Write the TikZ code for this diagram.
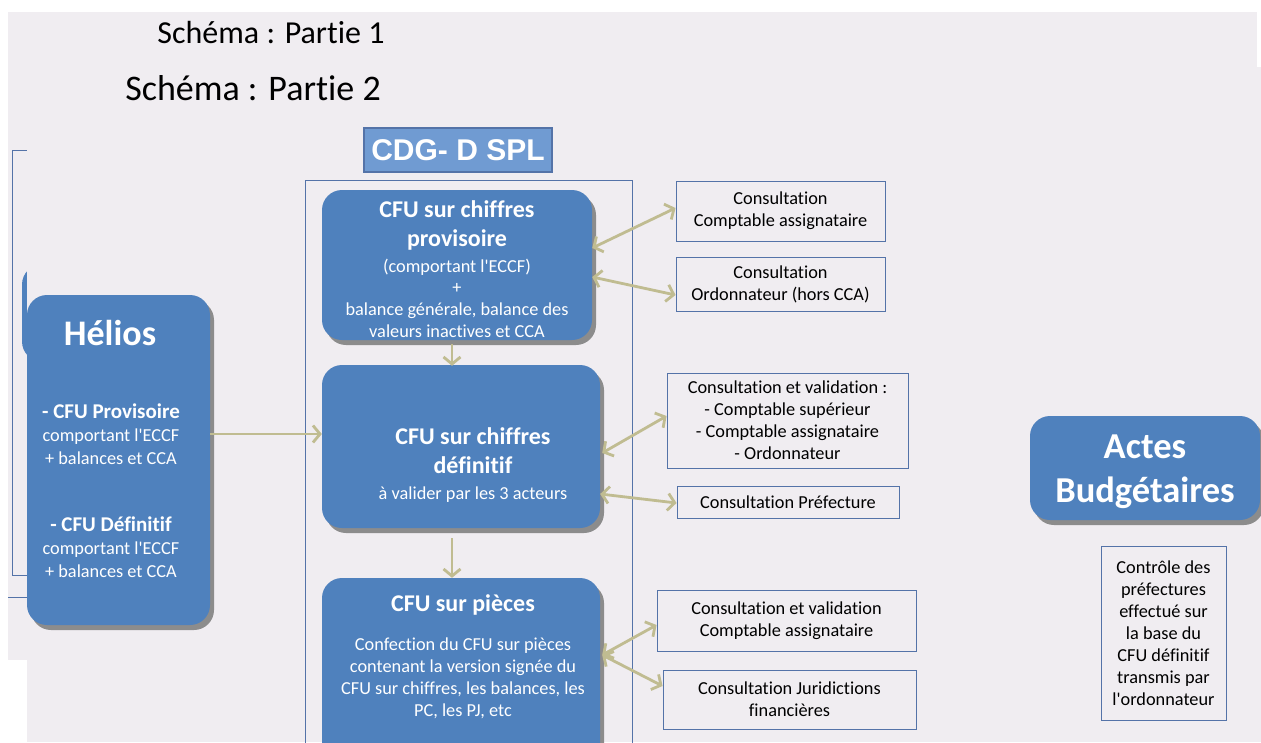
\documentclass[tikz,border=0pt]{standalone}
\usepackage{fontspec}
\setmainfont{Carlito}[Ligatures=NoCommon]
\newfontfamily\arialfont{Liberation Sans}
\usetikzlibrary{arrows.meta,shadows,positioning}

\definecolor{slidebg}{RGB}{240,237,241}
\definecolor{boxblue}{RGB}{79,129,189}
\definecolor{titleblue}{RGB}{112,155,210}
\definecolor{frameblue}{RGB}{84,115,168}
\definecolor{shadowgrey}{RGB}{140,140,140}
\definecolor{arrowtan}{RGB}{192,188,145}

\newcommand{\boxhead}[1]{{\fontsize{24}{22}\selectfont\bfseries #1}}
\newcommand{\subhead}[1]{{\fontsize{21}{22}\selectfont\bfseries #1}}
\newcommand{\q}{\textquotesingle}

\begin{document}
\begin{tikzpicture}[x=1pt,y=-1pt,
    bluebox/.style={fill=boxblue,rounded corners=20pt,text=white,align=center,inner sep=0pt,
      drop shadow={shadow xshift=4pt,shadow yshift=-5pt,fill=shadowgrey,opacity=1}},
    infobox/.style={draw=frameblue,line width=0.9pt,fill=slidebg,align=center,inner sep=0pt,
      font=\fontsize{18.3}{22}\selectfont},
    bodytext/.style={text=white,align=center,font=\fontsize{18.3}{22}\selectfont},
    flow/.style={draw=arrowtan,line width=2.8pt,-{Straight Barb[length=7pt,width=17pt]}},
    flowboth/.style={draw=arrowtan,line width=2.8pt,
      {Straight Barb[length=7pt,width=17pt]}-{Straight Barb[length=7pt,width=17pt]}}
  ]
  \clip (0,0) rectangle (1261,742);
  \fill[white] (0,0) rectangle (1261,742);

  % slide 1, mostly hidden
  \fill[slidebg] (8,12) rectangle (1257,660);
  \node[fill=boxblue,rounded corners=20pt,minimum width=178pt,minimum height=97pt] (oldhelios) at (111,313) {};
  \draw[frameblue,line width=0.9pt] (27,150) -- (12,150) -- (12,575) -- (27,575);
  \draw[frameblue,line width=0.9pt] (8,597) -- (27,597);
  \node[font=\fontsize{32}{34}\selectfont] (title1) at (271,33) {Schéma : Partie 1};

  % slide 2
  \fill[slidebg] (27,67) rectangle (1261,742);
  \node[font=\fontsize{36}{38}\selectfont] (title2) at (253,88) {Schéma : Partie 2};

  \node[draw=frameblue,line width=0.9pt,minimum width=327pt,minimum height=580pt] (cdgframe) at (468.5,470) {};
  \node[draw=frameblue,fill=titleblue,line width=1.2pt,minimum width=188pt,minimum height=44pt,
    text=white,font=\arialfont\bfseries\fontsize{30}{32}\selectfont] (cdg) at (458,150) {CDG- D SPL};

  \node[bluebox,minimum width=183pt,minimum height=330pt] (helios) at (118.5,460) {};
  \node[text=white,font=\bfseries\fontsize{36}{40}\selectfont] (heliostitle) at (110,333) {Hélios};
  \node[bodytext] (heliosprov) at (111,434) {\subhead{- CFU Provisoire}\\[1pt] comportant l\q ECCF\\[1pt] + balances et CCA};
  \node[bodytext] (heliosdef) at (111,547) {\subhead{- CFU Définitif}\\[1pt] comportant l\q ECCF\\[1pt] + balances et CCA};

  \node[bluebox,minimum width=270pt,minimum height=150pt] (cfuprov) at (457,265) {};
  \node[bodytext] (cfuprovtext) at ([yshift=-4pt]cfuprov.center)
    {\boxhead{CFU sur chiffres}\\[7pt] \boxhead{provisoire}\\[4pt]
     (comportant l\q ECCF)\\[-1pt] +\\ balance générale, balance des\\ valeurs inactives et CCA};

  \node[bluebox,minimum width=278pt,minimum height=163pt] (cfudef) at (461,446.5) {};
  \node[bodytext] (cfudeftext) at ([xshift=12pt,yshift=-18.5pt]cfudef.center)
    {\boxhead{CFU sur chiffres}\\[7pt] \boxhead{définitif}\\[4pt] à valider par les 3 acteurs};

  \node[bluebox,minimum width=278pt,minimum height=192pt] (cfupieces) at (461,674) {};
  \node[bodytext] (cfupiecestext) at ([xshift=2pt,yshift=17pt]cfupieces.center)
    {\boxhead{CFU sur pièces}\\[17pt] Confection du CFU sur pièces\\ contenant la version signée du\\
     CFU sur chiffres, les balances, les\\ PC, les PJ, etc};

  \node[infobox,minimum width=209pt,minimum height=60pt] (consassign) at (780.5,211) {Consultation\\ Comptable assignataire};
  \node[infobox,minimum width=209pt,minimum height=54pt] (consordo) at (780.5,284) {Consultation\\ Ordonnateur (hors CCA)};
  \node[infobox,minimum width=241pt,minimum height=95pt] (consvalid) at (787.5,420.5)
    {Consultation et validation :\\ - Comptable supérieur\\ - Comptable assignataire\\ - Ordonnateur};
  \node[infobox,minimum width=222pt,minimum height=32pt] (consprefect) at (788,502) {Consultation Préfecture};
  \node[infobox,minimum width=259pt,minimum height=61pt] (consvalidassign) at (786.5,620.5) {Consultation et validation\\ Comptable assignataire};
  \node[infobox,minimum width=253pt,minimum height=59pt] (consjuri) at (789.5,699.5) {Consultation Juridictions\\ financières};

  \node[bluebox,minimum width=230pt,minimum height=104pt] (actes) at (1145,468) {};
  \node[text=white,align=center,font=\bfseries\fontsize{36.5}{44}\selectfont] (actestext) at ([yshift=-4pt]actes.center) {Actes\\ Budgétaires};
  \node[infobox,minimum width=125pt,minimum height=174pt] (controle) at (1163.5,633)
    {Contrôle des\\ préfectures\\ effectué sur\\ la base du\\ CFU définitif\\ transmis par\\ l\q ordonnateur};

  % connectors
  \draw[flow] ([yshift=26pt]helios.east) -- ([yshift=12.5pt]cfudef.west);
  \draw[flow] ([xshift=-5pt,yshift=-4pt]cfuprov.south) -- ([xshift=-9pt,yshift=-1pt]cfudef.north);
  \draw[flow] ([xshift=-9pt,yshift=-10pt]cfudef.south) -- ([xshift=-9pt]cfupieces.north);
  \draw[flowboth] ([yshift=17pt]cfuprov.east) -- ([yshift=3pt]consassign.west);
  \draw[flowboth] ([yshift=-12pt]cfuprov.east) -- ([yshift=-11pt]consordo.west);
  \draw[flowboth] ([xshift=2pt,yshift=-6.5pt]cfudef.east) -- ([yshift=4.5pt]consvalid.west);
  \draw[flowboth] ([yshift=-47.5pt]cfudef.east) -- ([yshift=-1pt]consprefect.west);
  \draw[flowboth] ([xshift=2pt,yshift=19pt]cfupieces.east) -- ([yshift=-4.5pt]consvalidassign.west);
  \draw[flowboth] ([xshift=2pt,yshift=19pt]cfupieces.east) -- ([yshift=13.5pt]consjuri.west);
\end{tikzpicture}
\end{document}
